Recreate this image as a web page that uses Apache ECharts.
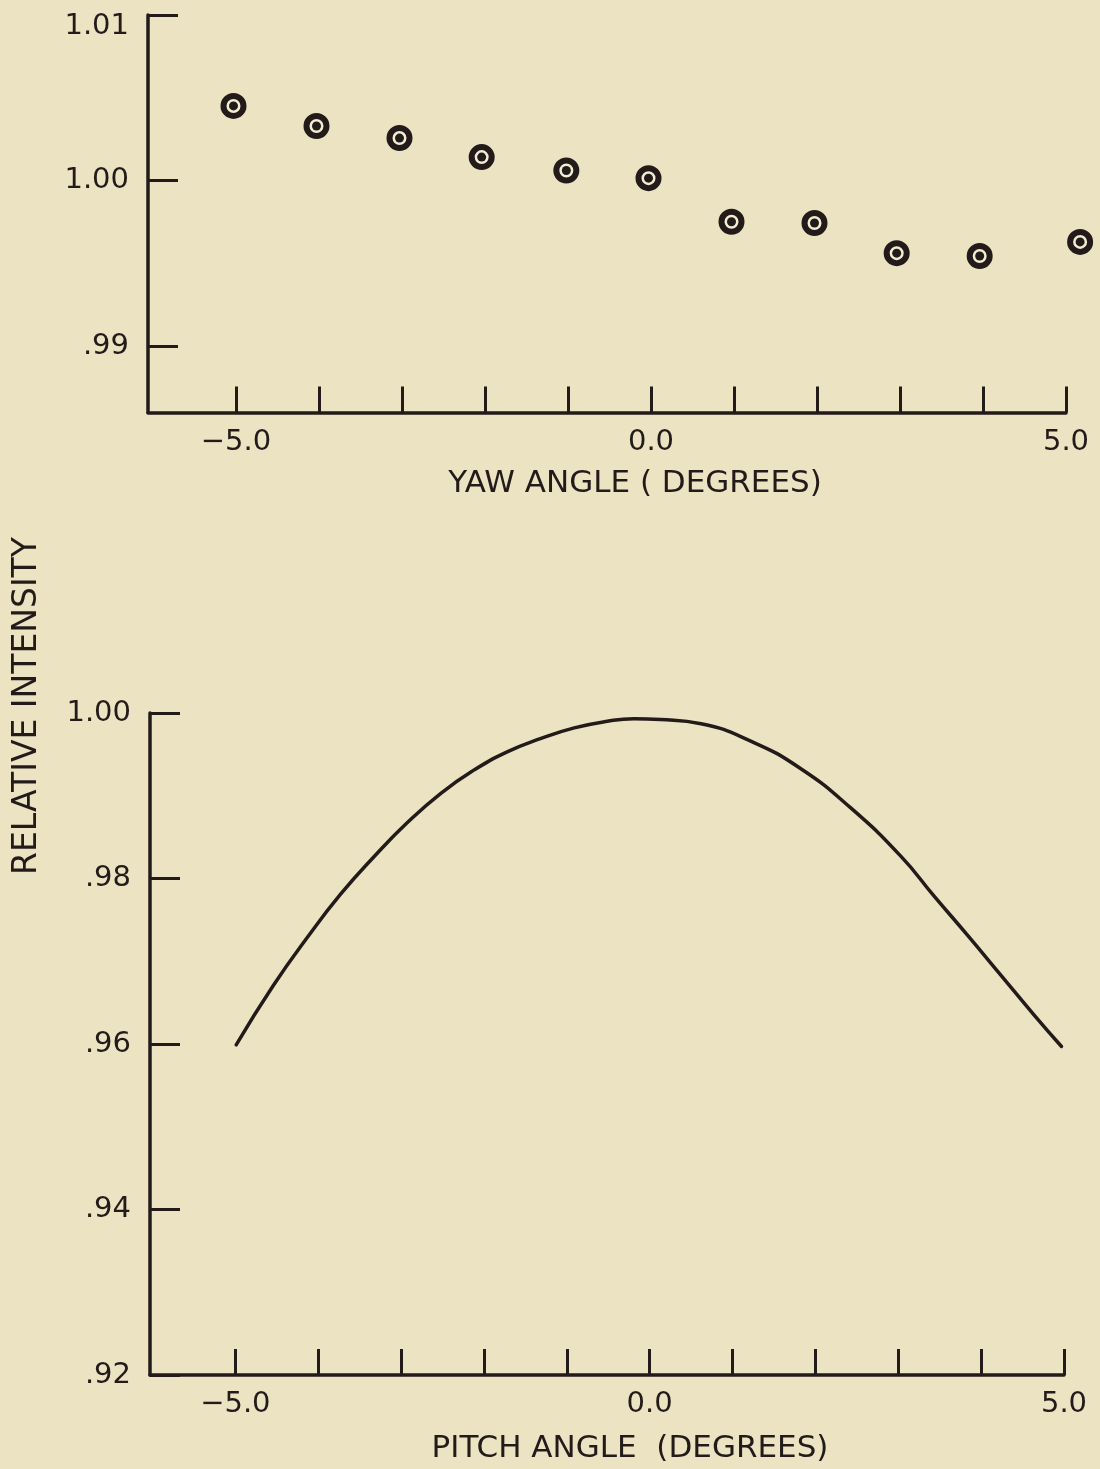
<!DOCTYPE html>
<html>
<head>
<meta charset="utf-8">
<script src="https://cdn.jsdelivr.net/npm/echarts@6/dist/echarts.min.js"></script>
<style>
  html, body { margin: 0; padding: 0; background: #ece3c2; }
  #chart { width: 1100px; height: 1469px; }
</style>
</head>
<body>
<div id="chart"></div>
<script>
// ---- Data ----
var yawAngles = [-5.03, -4.03, -3.03, -2.04, -1.02, -0.03, 0.97, 1.97, 2.96, 3.96, 5.17];
var yawIntensity = [1.00451, 1.00330, 1.00257, 1.00142, 1.00061, 1.00015, 0.99752, 0.99744, 0.99562, 0.99545, 0.99630];

var pitchAngles = [-4.99, -4.54, -4.13, -3.73, -3.33, -2.93, -2.52, -2.12, -1.72, -1.32, -0.91, -0.51, -0.19, 0.13, 0.62, 1.22, 1.82, 2.43, 3.03, 3.43, 3.84, 4.24, 4.64, 4.97];
var pitchIntensity = [0.9599, 0.9671, 0.9729, 0.9781, 0.9826, 0.9867, 0.9903, 0.9931, 0.9953, 0.9969, 0.9982, 0.9990, 0.9993, 0.9992, 0.9987, 0.9966, 0.9933, 0.9885, 0.9827, 0.9779, 0.9731, 0.9683, 0.9635, 0.9597];

var xTickValues = [-5, -4, -3, -2, -1, 0, 1, 2, 3, 4, 5];
var xLabelValues = [-5, 0, 5];
var yawYTicks = [0.99, 1.00, 1.01];
var yawYLabels = {'0.99': '.99', '1': '1.00', '1.01': '{low|1.01}'};
var pitchYTicks = [0.92, 0.94, 0.96, 0.98, 1.00];
var pitchYLabels = {'0.92': '.92', '0.94': '.94', '0.96': '.96', '0.98': '.98', '1': '1.00'};

// ---- Styling ----
var INK = '#231a1a';
var BG = '#ece3c2';
var FONT = 'DejaVu Sans';

function pairs(xs, ys) { return xs.map(function (x, i) { return [x, ys[i]]; }); }

function fmtX(v) {
  var s = Math.abs(v).toFixed(1);
  return v < 0 ? '\u2212' + s : s;
}

function xAxisCfg(idx, min, name, gap, padLeft) {
  return {
    type: 'value', gridIndex: idx, min: min, max: 5,
    name: name, nameLocation: 'middle', nameGap: gap,
    nameTextStyle: { color: INK, fontFamily: FONT, fontSize: 31, padding: [0, 0, 0, padLeft] },
    axisLine: { show: true, onZero: false, lineStyle: { color: INK, width: 3.5 } },
    axisTick: { show: true, inside: true, length: 26, customValues: xTickValues, lineStyle: { color: INK, width: 3 } },
    axisLabel: { show: true, customValues: xLabelValues, margin: 15, color: INK, fontFamily: FONT, fontSize: 29, formatter: fmtX },
    splitLine: { show: false }
  };
}

function yAxisCfg(idx, min, max, ticks, labels) {
  return {
    type: 'value', gridIndex: idx, min: min, max: max,
    axisLine: { show: true, onZero: false, lineStyle: { color: INK, width: 3.5 } },
    axisTick: { show: true, inside: true, length: 30, customValues: ticks, lineStyle: { color: INK, width: 3 } },
    axisLabel: {
      show: true, customValues: ticks, margin: 19, color: INK, fontFamily: FONT, fontSize: 29,
      formatter: function (v) { var k = String(Math.round(v * 100) / 100); return labels[k] || k; },
      rich: { low: { color: INK, fontFamily: FONT, fontSize: 29, padding: [22, 0, 0, 0] } }
    },
    splitLine: { show: false }
  };
}

var chart = echarts.init(document.getElementById('chart'), null, { renderer: 'canvas' });
chart.setOption({
  backgroundColor: BG,
  animation: false,
  grid: [
    { left: 148, width: 918, top: 15, height: 397.5 },
    { left: 150, width: 914, top: 713, height: 662 }
  ],
  xAxis: [
    xAxisCfg(0, -6.06, 'YAW ANGLE ( DEGREES)', 56, 56),
    xAxisCfg(1, -6.03, 'PITCH ANGLE  (DEGREES)', 58, 46)
  ],
  yAxis: [
    yAxisCfg(0, 0.986, 1.01, yawYTicks, yawYLabels),
    yAxisCfg(1, 0.92, 1.00, pitchYTicks, pitchYLabels)
  ],
  graphic: [{
    type: 'text',
    x: 27, y: 706,
    rotation: Math.PI / 2,
    style: {
      text: 'RELATIVE INTENSITY',
      fill: INK, font: '33px "DejaVu Sans"',
      align: 'center', verticalAlign: 'middle',
      x: 0, y: 0
    }
  }],
  series: [
    {
      type: 'scatter', xAxisIndex: 0, yAxisIndex: 0, clip: false,
      data: pairs(yawAngles, yawIntensity),
      symbol: 'circle', symbolSize: 20,
      itemStyle: { color: '#f4ecd2', borderColor: INK, borderWidth: 6, opacity: 1 },
      z: 3
    },
    {
      type: 'scatter', xAxisIndex: 0, yAxisIndex: 0, clip: false,
      data: pairs(yawAngles, yawIntensity),
      symbol: 'circle', symbolSize: 9,
      itemStyle: { color: INK, opacity: 1 },
      z: 4
    },
    {
      type: 'line', xAxisIndex: 1, yAxisIndex: 1,
      data: pairs(pitchAngles, pitchIntensity),
      smooth: 0.5, showSymbol: false, symbol: 'none',
      lineStyle: { color: INK, width: 3.5, cap: 'round' }
    }
  ]
});
</script>
</body>
</html>
